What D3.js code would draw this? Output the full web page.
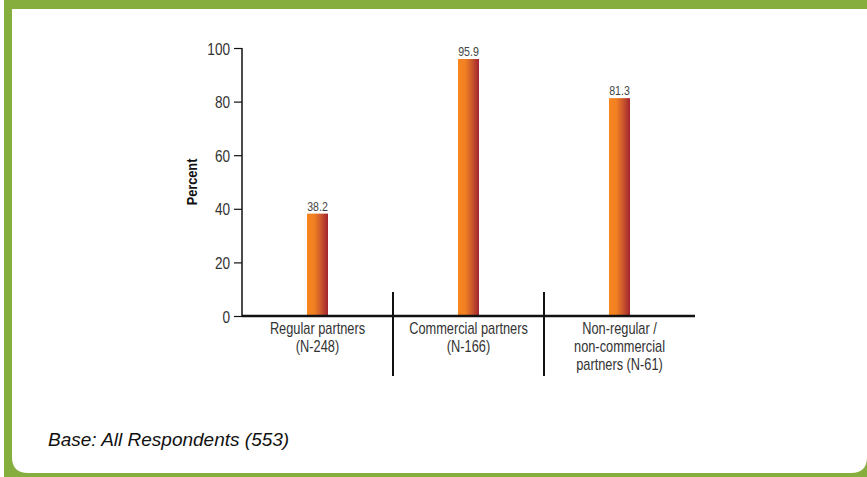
<!DOCTYPE html>
<html><head><meta charset="utf-8">
<script src="https://cdn.jsdelivr.net/npm/d3@7"></script>
<style>
html,body{margin:0;padding:0;background:#fff;}
svg{display:block;}
</style></head>
<body>
<svg id="chart" width="867" height="477"></svg>
<script>
const categories = [
  ["Regular partners", "(N-248)"],
  ["Commercial partners", "(N-166)"],
  ["Non-regular /", "non-commercial", "partners (N-61)"]
];
const values = [38.2, 95.9, 81.3];
const yTicks = [0, 20, 40, 60, 80, 100];
const yLabel = "Percent";
const footnote = "Base: All Respondents (553)";

const svg = d3.select("#chart");
const W = 867, H = 477;
const green = "#86ae3e";
const font = "'Liberation Sans', Arial, sans-serif";

function ctext(parent, xPos, yPos, str, size, anchor, sx, opts = {}) {
  const g = parent.append("g").attr("transform", `translate(${xPos},${yPos}) scale(${sx},1)`);
  return g.append("text")
    .attr("x", 0).attr("y", 0)
    .attr("text-anchor", anchor)
    .attr("font-family", font).attr("font-size", size)
    .attr("fill", opts.fill || "#333")
    .attr("font-weight", opts.weight || "normal")
    .text(str);
}

// frame
svg.append("rect").attr("x",0).attr("y",0).attr("width",W).attr("height",H).attr("fill","#fff");
svg.append("rect").attr("x",4).attr("y",0).attr("width",W-4).attr("height",H).attr("fill",green);
const px0 = 12, py0 = 9, px1 = W, py1 = 473, r = 16;
svg.append("path")
  .attr("d", `M${px0},${py0} H${px1} V${py1-r} Q${px1},${py1} ${px1-r},${py1} H${px0+r} Q${px0},${py1} ${px0},${py1-r} Z`)
  .attr("fill","#fff");

const defs = svg.append("defs");
const grad = defs.append("linearGradient").attr("id","barGrad").attr("x1","0").attr("x2","1").attr("y1","0").attr("y2","0");
grad.append("stop").attr("offset","0").attr("stop-color","#f7861f");
grad.append("stop").attr("offset","0.35").attr("stop-color","#f28022");
grad.append("stop").attr("offset","0.65").attr("stop-color","#cc5a2c");
grad.append("stop").attr("offset","1").attr("stop-color","#a2232f");

const x0 = 242, x1 = 695, yBase = 316, yTop = 48;
const x = d3.scaleBand().domain(d3.range(categories.length)).range([x0, x1]).padding(0);
const y = d3.scaleLinear().domain([0, 100]).range([yBase, yTop]);
const barW = 21;

// y axis
const yAxis = d3.axisLeft(y).tickValues(yTicks).tickSize(8).tickFormat(d3.format("d"));
const gy = svg.append("g").attr("transform", `translate(${x0},0)`).call(yAxis);
gy.select(".domain").attr("d", `M0,${yTop} V${yBase}`).attr("stroke","#111").attr("stroke-width",1.5);
gy.selectAll(".tick line").attr("stroke","#111").attr("stroke-width",1.2);
gy.selectAll(".tick text").remove();
gy.selectAll(".tick").each(function(d) {
  ctext(d3.select(this), -12, 6, d3.format("d")(d), 17, "end", 0.8);
});

// bars
svg.selectAll("rect.bar").data(values).enter().append("rect")
  .attr("class","bar")
  .attr("x",(d,i)=> x(i) + x.bandwidth()/2 - barW/2)
  .attr("y", d=> y(d))
  .attr("width", barW)
  .attr("height", d=> yBase - y(d))
  .attr("fill","url(#barGrad)");

values.forEach((d, i) => {
  ctext(svg, x(i) + x.bandwidth()/2, y(d) - 3, d.toFixed(1), 12.5, "middle", 0.85, {fill: "#444"});
});

// x axis
svg.append("line").attr("x1",x0).attr("x2",x1).attr("y1",yBase).attr("y2",yBase).attr("stroke","#111").attr("stroke-width",2.5);
const seps = d3.range(1, categories.length).map(i => x(i));
svg.selectAll("line.sep").data(seps).enter().append("line")
  .attr("class","sep")
  .attr("x1",d=>d).attr("x2",d=>d).attr("y1",292).attr("y2",376)
  .attr("stroke","#111").attr("stroke-width",2);

// category labels
categories.forEach((lines, i) => {
  lines.forEach((ln, j) => {
    ctext(svg, x(i) + x.bandwidth()/2, 334 + j*18, ln, 16, "middle", 0.8);
  });
});

// y label
const gl = svg.append("g").attr("transform","translate(197,182) rotate(-90) scale(0.85,1)");
gl.append("text")
  .attr("text-anchor","middle")
  .attr("font-family", font).attr("font-size",15).attr("font-weight","bold").attr("fill","#111")
  .text(yLabel);

// footnote
svg.append("text")
  .attr("x",48).attr("y",446)
  .attr("font-family", font).attr("font-size",19).attr("font-style","italic").attr("fill","#111")
  .text(footnote);
</script>
</body></html>
